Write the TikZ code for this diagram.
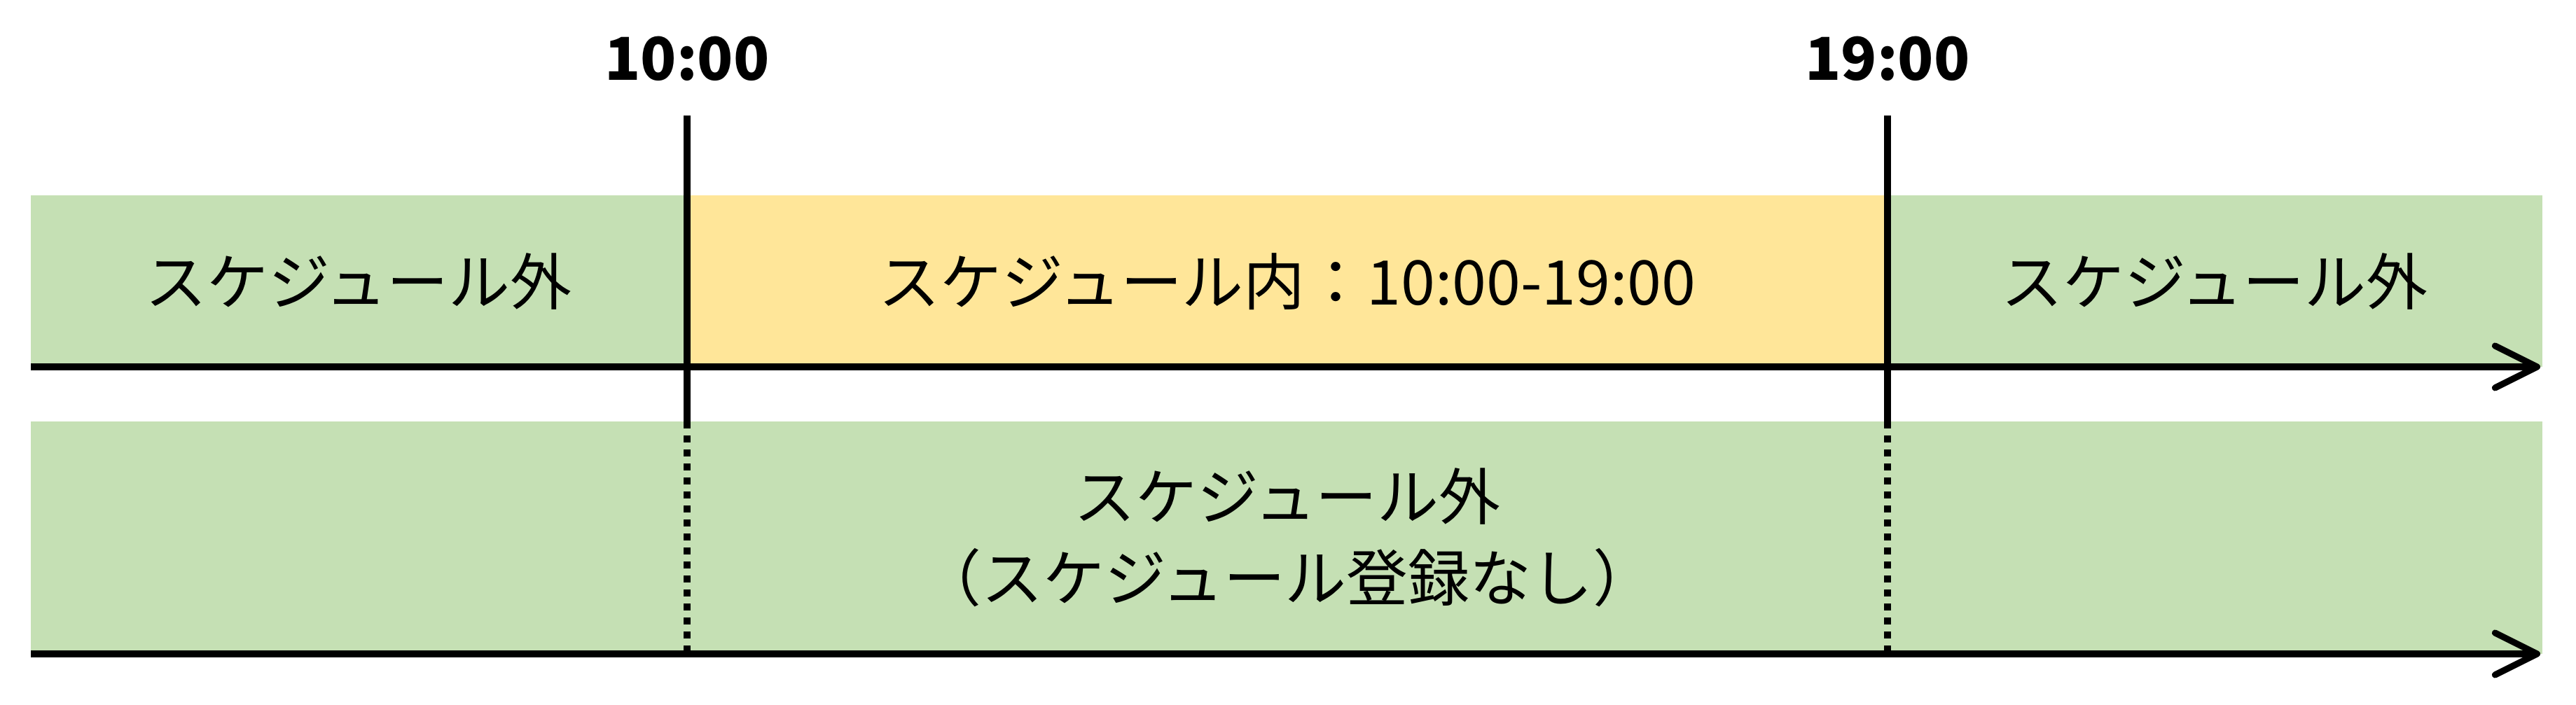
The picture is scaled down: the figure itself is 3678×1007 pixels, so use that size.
\documentclass[tikz,border=0pt]{standalone}
\usepackage{fontspec}
\newfontfamily\jpfont{Noto Sans CJK JP}
\usetikzlibrary{arrows.meta}
\definecolor{outgreen}{HTML}{C5E0B4}
\definecolor{ingold}{HTML}{FFE699}
\tikzset{
  axisline/.style={line width=2.6pt,-{Straight Barb[length=0.6cm,width=0.6cm,round]}},
  tickline/.style={line width=2.8pt},
  dotline/.style={line width=2.8pt,dash pattern=on 0.1cm off 0.1cm},
  lbl/.style={font=\jpfont\fontsize{25}{33}\selectfont,align=center,inner sep=0pt},
  timelbl/.style={font=\jpfont\bfseries\fontsize{24}{28}\selectfont,inner sep=0pt}
}
\begin{document}
\begin{tikzpicture}[x=0.01cm,y=-0.01cm]
\useasboundingbox (0,0) rectangle (3678,1007);

%bands%%%%%%%%%%%%%%%%%%%%%%%%%%%%%%%%%%%%%%%%%%%%%%%%%%%%%%%%%%%%%%%%%%
\fill[outgreen] (44,279) rectangle (981,524); %left
\fill[ingold] (981,279) rectangle (2695,524); %inside
\fill[outgreen] (2695,279) rectangle (3630,524); %right
\fill[outgreen] (44,602) rectangle (3630,934); %no schedule

%axes%%%%%%%%%%%%%%%%%%%%%%%%%%%%%%%%%%%%%%%%%%%%%%%%%%%%%%%%%%%%%%%%%%%
\coordinate (a1s) at (44,524);
\coordinate (a1e) at (3627,524);
\coordinate (a2s) at (44,934);
\coordinate (a2e) at (3627,934);
\draw[axisline] (a1s) -- (a1e);
\draw[axisline] (a2s) -- (a2e);

%ticks%%%%%%%%%%%%%%%%%%%%%%%%%%%%%%%%%%%%%%%%%%%%%%%%%%%%%%%%%%%%%%%%%%
\coordinate (p10top) at (981,165);
\coordinate (p10mid) at (981,602);
\coordinate (p10bot) at (981,934);
\coordinate (p19top) at (2695,165);
\coordinate (p19mid) at (2695,602);
\coordinate (p19bot) at (2695,934);
\draw[tickline] (p10top) -- (p10mid);
\draw[dotline] (p10mid) -- (p10bot);
\draw[tickline] (p19top) -- (p19mid);
\draw[dotline] (p19mid) -- (p19bot);

%labels%%%%%%%%%%%%%%%%%%%%%%%%%%%%%%%%%%%%%%%%%%%%%%%%%%%%%%%%%%%%%%%%%
\node[timelbl] (t10) at (981,84) {10:00};
\node[timelbl] (t19) at (2695,84) {19:00};

\node[lbl] (outL) at (512,402) {スケジュール外};
\node[lbl] (inM) at (1838,402) {スケジュール内：10:00-19:00};
\node[lbl] (outR) at (3162,402) {スケジュール外};
\node[lbl] (outAll) at (1838,768) {スケジュール外\\（スケジュール登録なし）};

\end{tikzpicture}
\end{document}
